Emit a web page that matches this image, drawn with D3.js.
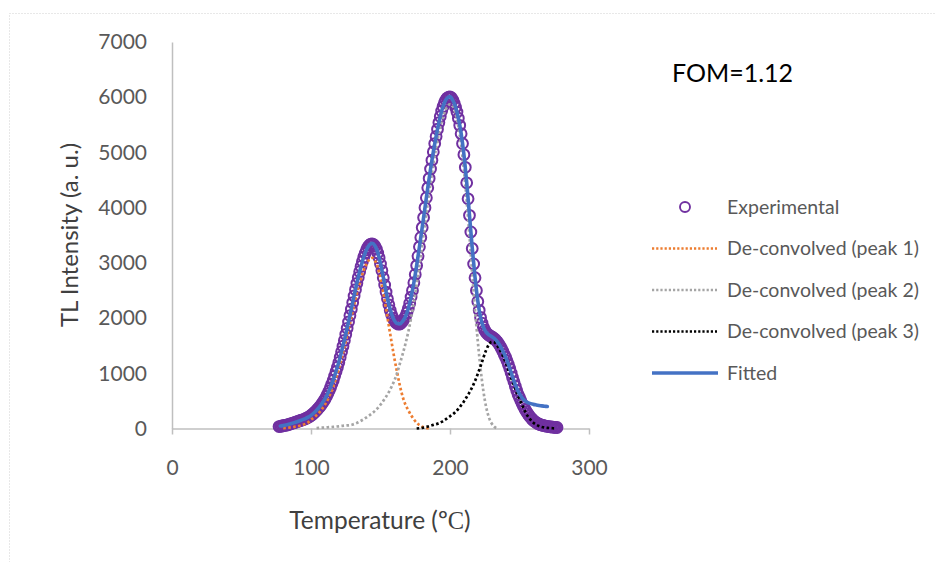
<!DOCTYPE html>
<html>
<head>
<meta charset="utf-8">
<script src="https://cdn.jsdelivr.net/npm/d3@7"></script>
<style>
  body { margin: 0; background: #fff; }
  svg { display: block; }
  text { font-family: Lato, "Open Sans", sans-serif; }
</style>
</head>
<body>
<svg id="chart" width="935" height="562"></svg>
<script>
// experimental glow curve, one reading per degree from 77 to 277 C
var expStart = 77;
var expValues = [
  35, 40, 45, 50, 55, 60, 66, 74, 82, 90,
  98, 106, 115, 124, 132, 141, 150, 158, 167, 178,
  190, 203, 218, 236, 256, 278, 302, 328, 356, 386,
  418, 452, 490, 530, 575, 625, 680, 740, 805, 875,
  950, 1030, 1110, 1195, 1290, 1390, 1490, 1595, 1705, 1815,
  1930, 2045, 2160, 2280, 2400, 2515, 2630, 2735, 2840, 2935,
  3025, 3105, 3175, 3235, 3285, 3320, 3340, 3345, 3330, 3300,
  3250, 3180, 3090, 2980, 2860, 2730, 2600, 2470, 2350, 2240,
  2140, 2060, 2000, 1950, 1920, 1900, 1890, 1895, 1915, 1945,
  1985, 2030, 2095, 2175, 2270, 2380, 2500, 2640, 2790, 2950,
  3120, 3290, 3460, 3640, 3820, 4000, 4180, 4360, 4530, 4700,
  4860, 5010, 5160, 5290, 5420, 5540, 5650, 5750, 5830, 5900,
  5950, 5985, 6000, 6005, 5990, 5950, 5890, 5820, 5730, 5620,
  5490, 5340, 5160, 4960, 4730, 4450, 4160, 3860, 3560, 3260,
  2980, 2730, 2500, 2300, 2140, 2010, 1910, 1835, 1780, 1740,
  1710, 1690, 1675, 1660, 1645, 1625, 1600, 1570, 1535, 1495,
  1450, 1400, 1340, 1290, 1225, 1160, 1085, 1005, 925, 845,
  765, 690, 615, 560, 500, 445, 395, 350, 305, 265,
  230, 198, 170, 146, 126, 108, 93, 80, 70, 62,
  55, 49, 44, 39, 35, 31, 28, 25, 22, 20,
  18
];

// fitted curve, every 2 degrees from 78 to 270
var fitStart = 78;
var fitValues = [
  45, 52, 62, 75, 90, 106, 123, 141, 160, 180,
  205, 238, 280, 330, 388, 455, 535, 630, 745, 880,
  1035, 1200, 1395, 1600, 1820, 2050, 2280, 2520, 2740, 2940,
  3110, 3240, 3325, 3355, 3310, 3190, 2990, 2740, 2480, 2250,
  2070, 1955, 1900, 1895, 1945, 2030, 2175, 2380, 2640, 2950,
  3290, 3640, 4000, 4360, 4700, 5010, 5290, 5540, 5750, 5900,
  5985, 6010, 5945, 5825, 5625, 5345, 4965, 4460, 3870, 3270,
  2740, 2310, 2010, 1835, 1745, 1695, 1665, 1630, 1575, 1500,
  1405, 1295, 1160, 1010, 860, 730, 625, 550, 500, 470,
  450, 437, 427, 418, 410, 404, 398
];

// de-convolved peaks, every 2 degrees
var peak1Start = 80;
var peak1Values = [
  8, 11, 16, 22, 30, 38, 50, 65, 85, 110,
  160, 195, 240, 290, 355, 430, 520, 630, 760, 910,
  1080, 1270, 1470, 1680, 1900, 2120, 2340, 2540, 2720, 2870,
  2980, 3060, 3090, 3040, 2920, 2720, 2460, 2170, 1860, 1560,
  1270, 1010, 770, 570, 430, 330, 240, 165, 105, 62,
  33, 15, 5, 0
];
var peak2Start = 104;
var peak2Values = [
  8, 12, 15, 18, 22, 26, 30, 35, 40, 47,
  52, 56, 60, 72, 90, 112, 140, 170, 203, 237,
  275, 320, 370, 430, 500, 575, 660, 760, 870, 1010,
  1180, 1350, 1540, 1750, 2000, 2280, 2600, 2950, 3320, 3700,
  4080, 4440, 4780, 5080, 5340, 5560, 5720, 5830, 5870, 5840,
  5700, 5470, 5130, 4680, 4120, 3480, 2800, 2150, 1580, 1080,
  680, 390, 200, 90, 30, 5
];
var peak3Start = 176;
var peak3Values = [
  0, 5, 12, 22, 35, 50, 65, 80, 95, 120,
  150, 185, 220, 255, 300, 355, 420, 490, 570, 655,
  750, 860, 990, 1130, 1280, 1420, 1520, 1570, 1560, 1500,
  1420, 1320, 1200, 1060, 920, 780, 650, 530, 420, 310,
  220, 155, 105, 70, 45, 28, 18, 12, 8, 5,
  3
];

var xTicks = [0, 100, 200, 300];
var yTicks = [0, 1000, 2000, 3000, 4000, 5000, 6000, 7000];
var legendLabels = ["Experimental", "De-convolved (peak 1)", "De-convolved (peak 2)", "De-convolved (peak 3)", "Fitted"];

function toPoints(start, step, values) {
  return values.map(function(v, i) { return { t: start + i * step, v: v }; });
}

var svg = d3.select("#chart");

// chart area border (dotted, Excel style)
svg.append("rect")
  .attr("x", 9.5).attr("y", 13.5)
  .attr("width", 940).attr("height", 560)
  .attr("fill", "none")
  .attr("stroke", "#d0d0d0")
  .attr("stroke-dasharray", "1,2");

var x = d3.scaleLinear().domain([0, 300]).range([172, 589]);
var y = d3.scaleLinear().domain([0, 7000]).range([428.5, 42]);

// y axis
var yAxis = svg.append("g")
  .attr("transform", "translate(172,0)")
  .call(d3.axisLeft(y).tickValues(yTicks).tickSize(0).tickPadding(25).tickFormat(d3.format("d")));
yAxis.select(".domain").attr("stroke", "#bfbfbf").attr("stroke-width", 1.5);
yAxis.selectAll("text")
  .attr("fill", "#595959")
  .style("font-size", "21px");

// x axis
var xAxis = svg.append("g")
  .attr("transform", "translate(0,428.5)")
  .call(d3.axisBottom(x).tickValues(xTicks).tickSize(6).tickSizeOuter(0).tickPadding(26));
xAxis.select(".domain").attr("stroke", "#bfbfbf").attr("stroke-width", 1.5);
xAxis.selectAll(".tick line").attr("stroke", "#bfbfbf").attr("stroke-width", 1.5);
xAxis.selectAll("text")
  .attr("fill", "#595959")
  .style("font-size", "21px");

// axis titles
svg.append("text")
  .attr("transform", "translate(78,235) rotate(-90)")
  .attr("text-anchor", "middle")
  .attr("fill", "#404040")
  .style("font-size", "24px")
  .text("TL Intensity (a. u.)");

var xTitle = svg.append("text")
  .attr("x", 380).attr("y", 529)
  .attr("text-anchor", "middle")
  .attr("fill", "#404040")
  .style("font-size", "24.5px");
xTitle.append("tspan").text("Temperature (º");
xTitle.append("tspan").style("font-family", "'Liberation Serif', serif").text("C");
xTitle.append("tspan").text(")");

svg.append("text")
  .attr("x", 672).attr("y", 82)
  .attr("fill", "#000")
  .style("font-size", "25px")
  .text("FOM=1.12");

// series
var line = d3.line()
  .x(function(d) { return x(d.t); })
  .y(function(d) { return y(d.v); })
  .curve(d3.curveMonotoneX);

var expData = toPoints(expStart, 1, expValues);
svg.append("g").selectAll("circle")
  .data(expData)
  .join("circle")
  .attr("cx", function(d) { return x(d.t); })
  .attr("cy", function(d) { return y(d.v); })
  .attr("r", 5.4)
  .attr("fill", "none")
  .attr("stroke", "#7030a0")
  .attr("stroke-width", 2);

var peaks = [
  { values: toPoints(peak1Start, 2, peak1Values), color: "#ed7d31" },
  { values: toPoints(peak2Start, 2, peak2Values), color: "#a5a5a5" },
  { values: toPoints(peak3Start, 2, peak3Values), color: "#000000" }
];
peaks.forEach(function(p) {
  svg.append("path")
    .datum(p.values)
    .attr("d", line)
    .attr("fill", "none")
    .attr("stroke", p.color)
    .attr("stroke-width", 2.7)
    .attr("stroke-dasharray", "2.6,2.4");
});

svg.append("path")
  .datum(toPoints(fitStart, 2, fitValues))
  .attr("d", line)
  .attr("fill", "none")
  .attr("stroke", "#4472c4")
  .attr("stroke-width", 3.6)
  .attr("stroke-linecap", "round")
  .attr("stroke-linejoin", "round");

// legend
var legendStyles = [
  { type: "circle", color: "#7030a0" },
  { type: "dot", color: "#ed7d31" },
  { type: "dot", color: "#a5a5a5" },
  { type: "dot", color: "#000000" },
  { type: "solid", color: "#4472c4" }
];
var legend = svg.append("g");
legendLabels.forEach(function(label, i) {
  var ly = 207 + i * 41.5;
  var s = legendStyles[i];
  if (s.type === "circle") {
    legend.append("circle")
      .attr("cx", 685).attr("cy", ly).attr("r", 5)
      .attr("fill", "none").attr("stroke", s.color).attr("stroke-width", 1.9);
  } else if (s.type === "solid") {
    legend.append("line")
      .attr("x1", 652).attr("x2", 718).attr("y1", ly).attr("y2", ly)
      .attr("stroke", s.color)
      .attr("stroke-width", 3.3);
  } else {
    legend.append("line")
      .attr("x1", 652).attr("x2", 717).attr("y1", ly).attr("y2", ly)
      .attr("stroke", s.color)
      .attr("stroke-width", 2.4)
      .attr("stroke-dasharray", "2.2,2");
  }
  legend.append("text")
    .attr("x", 727).attr("y", ly)
    .attr("dy", "0.35em")
    .attr("fill", "#595959")
    .style("font-size", "19.5px")
    .text(label);
});
</script>
</body>
</html>
